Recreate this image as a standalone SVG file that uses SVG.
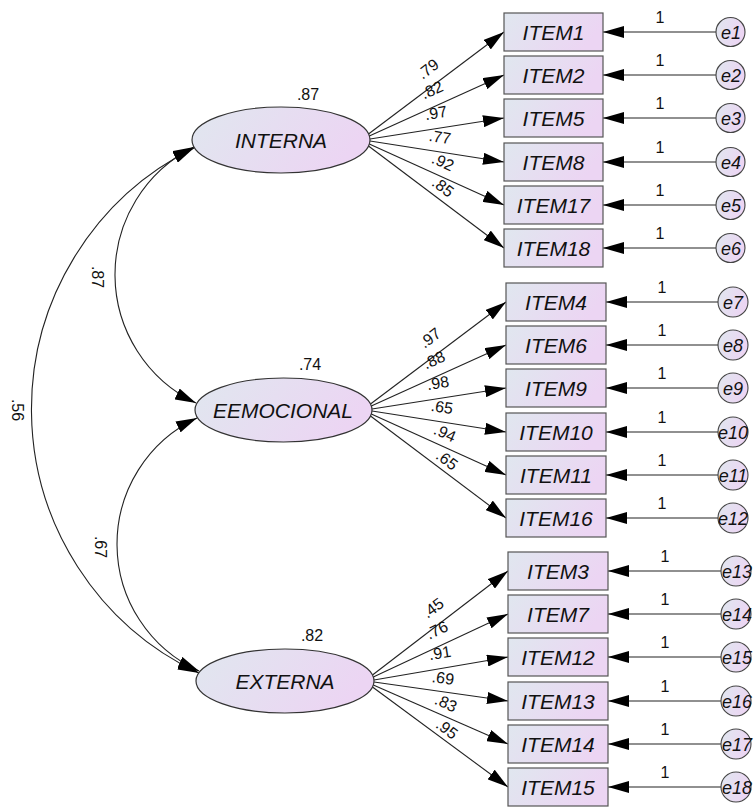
<svg xmlns="http://www.w3.org/2000/svg" width="755" height="807" viewBox="0 0 755 807">
<defs>
<linearGradient id="gf" x1="0" y1="0" x2="1" y2="0.3">
<stop offset="0" stop-color="#e0e7ef"/>
<stop offset="1" stop-color="#ecd5f3"/>
</linearGradient>
<marker id="ah" markerUnits="userSpaceOnUse" markerWidth="21" markerHeight="12" viewBox="0 0 21 12" refX="21" refY="6" orient="auto-start-reverse">
<path d="M0,0 L21,6 L0,12 z" fill="#000"/>
</marker>
<style>
.box{fill:url(#gf);stroke:#555;stroke-width:1.2}
.lat{fill:url(#gf);stroke:#333;stroke-width:1.2}
.err{fill:url(#gf);stroke:#444;stroke-width:1.1}
.nl{font-family:"Liberation Sans",Arial,sans-serif;font-style:italic;font-size:21px;fill:#111;text-anchor:middle}
.el{font-family:"Liberation Sans",Arial,sans-serif;font-style:italic;font-size:18px;fill:#111;text-anchor:middle}
.num{font-family:"Liberation Sans",Arial,sans-serif;font-size:16px;fill:#111;text-anchor:middle}
.c{stroke:#222;stroke-width:1.1;fill:none;marker-end:url(#ah)}
.cv{stroke:#222;stroke-width:1.1;fill:none;marker-start:url(#ah);marker-end:url(#ah)}
</style>
</defs>
<rect width="755" height="807" fill="#fff"/>

<g id="connectors">
<!-- covariances -->
<path class="cv" d="M194,147 A142.4,142.4 0 0 0 196,403"/>
<path class="cv" d="M194,148 A291.3,291.3 0 0 0 199,673"/>
<path class="cv" d="M197,418 A139.3,139.3 0 0 0 199,671"/>
<!-- INTERNA loadings -->
<path class="c" d="M368.5,134 L504,32"/>
<path class="c" d="M369.3,136 L504,75"/>
<path class="c" d="M370,139 L504,118"/>
<path class="c" d="M370,141 L504,162"/>
<path class="c" d="M369.3,144 L504,205"/>
<path class="c" d="M368.5,146 L504,248"/>
<!-- EEMOCIONAL loadings -->
<path class="c" d="M370.5,404 L506,302"/>
<path class="c" d="M371.3,406 L506,345"/>
<path class="c" d="M372,409 L506,388"/>
<path class="c" d="M372,411 L506,432"/>
<path class="c" d="M371.3,414 L506,475"/>
<path class="c" d="M370.5,416 L506,518"/>
<!-- EXTERNA loadings -->
<path class="c" d="M372.5,675 L508,571"/>
<path class="c" d="M373.3,677 L508,614"/>
<path class="c" d="M374,680 L508,657"/>
<path class="c" d="M374,682 L508,701"/>
<path class="c" d="M373.3,685 L508,744"/>
<path class="c" d="M372.5,687 L508,787"/>
<!-- error paths -->
<path class="c" d="M716,32 L603,32"/>
<path class="c" d="M716,75 L603,75"/>
<path class="c" d="M716,118 L603,118"/>
<path class="c" d="M716,162 L603,162"/>
<path class="c" d="M716,205 L603,205"/>
<path class="c" d="M716,248 L603,248"/>
<path class="c" d="M718,302 L606,302"/>
<path class="c" d="M718,345 L606,345"/>
<path class="c" d="M718,388 L606,388"/>
<path class="c" d="M718,432 L606,432"/>
<path class="c" d="M718,475 L606,475"/>
<path class="c" d="M718,518 L606,518"/>
<path class="c" d="M721,571 L608,571"/>
<path class="c" d="M721,614 L608,614"/>
<path class="c" d="M721,657 L608,657"/>
<path class="c" d="M721,701 L608,701"/>
<path class="c" d="M721,744 L608,744"/>
<path class="c" d="M721,787 L608,787"/>
</g>

<g id="connector-labels">
<text class="num" transform="translate(97,277) rotate(90)" x="0" y="5.5">.87</text>
<text class="num" transform="translate(100,547) rotate(90)" x="0" y="5.5">.67</text>
<text class="num" transform="translate(17,410) rotate(90)" x="0" y="5.5">.56</text>

<text class="num" transform="translate(428,69) rotate(-37)" y="5.5">.79</text>
<text class="num" transform="translate(432,90) rotate(-24)" y="5.5">.82</text>
<text class="num" transform="translate(436,113) rotate(-9)" y="5.5">.97</text>
<text class="num" transform="translate(440,137) rotate(9)" y="5.5">.77</text>
<text class="num" transform="translate(443,162) rotate(24)" y="5.5">.92</text>
<text class="num" transform="translate(443,187) rotate(37)" y="5.5">.85</text>

<text class="num" transform="translate(430,338) rotate(-37)" y="5.5">.97</text>
<text class="num" transform="translate(434,360) rotate(-24)" y="5.5">.88</text>
<text class="num" transform="translate(438,383) rotate(-9)" y="5.5">.98</text>
<text class="num" transform="translate(442,407) rotate(9)" y="5.5">.65</text>
<text class="num" transform="translate(445,433) rotate(24)" y="5.5">.94</text>
<text class="num" transform="translate(447,460) rotate(37)" y="5.5">.65</text>

<text class="num" transform="translate(433,608) rotate(-37)" y="5.5">.45</text>
<text class="num" transform="translate(437,630) rotate(-25)" y="5.5">.76</text>
<text class="num" transform="translate(440,653) rotate(-9)" y="5.5">.91</text>
<text class="num" transform="translate(443,678) rotate(8)" y="5.5">.69</text>
<text class="num" transform="translate(446,703) rotate(24)" y="5.5">.83</text>
<text class="num" transform="translate(447,729) rotate(37)" y="5.5">.95</text>

<text class="num" x="660" y="23">1</text>
<text class="num" x="660" y="66">1</text>
<text class="num" x="660" y="109">1</text>
<text class="num" x="660" y="153">1</text>
<text class="num" x="660" y="196">1</text>
<text class="num" x="660" y="239">1</text>
<text class="num" x="662" y="293">1</text>
<text class="num" x="662" y="336">1</text>
<text class="num" x="662" y="379">1</text>
<text class="num" x="662" y="423">1</text>
<text class="num" x="662" y="466">1</text>
<text class="num" x="662" y="509">1</text>
<text class="num" x="665" y="562">1</text>
<text class="num" x="665" y="605">1</text>
<text class="num" x="665" y="648">1</text>
<text class="num" x="665" y="692">1</text>
<text class="num" x="665" y="735">1</text>
<text class="num" x="665" y="778">1</text>
</g>

<g id="INTERNA"><ellipse class="lat" cx="281" cy="140" rx="89" ry="33"/><text class="nl" x="281" y="147.5">INTERNA</text><text class="num" x="308" y="99.5">.87</text></g>
<g id="EEMOCIONAL"><ellipse class="lat" cx="283.5" cy="410" rx="88.5" ry="32"/><text class="nl" x="283" y="417.5">EEMOCIONAL</text><text class="num" x="310" y="369.5">.74</text></g>
<g id="EXTERNA"><ellipse class="lat" cx="285" cy="681" rx="89" ry="32"/><text class="nl" x="285" y="688.5">EXTERNA</text><text class="num" x="312" y="640.5">.82</text></g>

<g id="ITEM1"><rect class="box" x="504" y="13" width="99" height="38"/><text class="nl" x="553.5" y="39.5">ITEM1</text></g>
<g id="ITEM2"><rect class="box" x="504" y="56" width="99" height="38"/><text class="nl" x="553.5" y="82.5">ITEM2</text></g>
<g id="ITEM5"><rect class="box" x="504" y="99" width="99" height="38"/><text class="nl" x="553.5" y="125.5">ITEM5</text></g>
<g id="ITEM8"><rect class="box" x="504" y="143" width="99" height="38"/><text class="nl" x="553.5" y="169.5">ITEM8</text></g>
<g id="ITEM17"><rect class="box" x="504" y="186" width="99" height="38"/><text class="nl" x="553.5" y="212.5">ITEM17</text></g>
<g id="ITEM18"><rect class="box" x="504" y="229" width="99" height="38"/><text class="nl" x="553.5" y="255.5">ITEM18</text></g>

<g id="ITEM4"><rect class="box" x="506" y="283" width="100" height="38"/><text class="nl" x="556" y="309.5">ITEM4</text></g>
<g id="ITEM6"><rect class="box" x="506" y="326" width="100" height="38"/><text class="nl" x="556" y="352.5">ITEM6</text></g>
<g id="ITEM9"><rect class="box" x="506" y="369" width="100" height="38"/><text class="nl" x="556" y="395.5">ITEM9</text></g>
<g id="ITEM10"><rect class="box" x="506" y="413" width="100" height="38"/><text class="nl" x="556" y="439.5">ITEM10</text></g>
<g id="ITEM11"><rect class="box" x="506" y="456" width="100" height="38"/><text class="nl" x="556" y="482.5">ITEM11</text></g>
<g id="ITEM16"><rect class="box" x="506" y="499" width="100" height="38"/><text class="nl" x="556" y="525.5">ITEM16</text></g>

<g id="ITEM3"><rect class="box" x="508" y="552" width="100" height="38"/><text class="nl" x="558" y="578.5">ITEM3</text></g>
<g id="ITEM7"><rect class="box" x="508" y="595" width="100" height="38"/><text class="nl" x="558" y="621.5">ITEM7</text></g>
<g id="ITEM12"><rect class="box" x="508" y="638" width="100" height="38"/><text class="nl" x="558" y="664.5">ITEM12</text></g>
<g id="ITEM13"><rect class="box" x="508" y="682" width="100" height="38"/><text class="nl" x="558" y="708.5">ITEM13</text></g>
<g id="ITEM14"><rect class="box" x="508" y="725" width="100" height="38"/><text class="nl" x="558" y="751.5">ITEM14</text></g>
<g id="ITEM15"><rect class="box" x="508" y="768" width="100" height="38"/><text class="nl" x="558" y="794.5">ITEM15</text></g>

<g id="e1"><circle class="err" cx="730.5" cy="32" r="14.5"/><text class="el" x="731" y="38.5">e1</text></g>
<g id="e2"><circle class="err" cx="730.5" cy="75" r="14.5"/><text class="el" x="731" y="81.5">e2</text></g>
<g id="e3"><circle class="err" cx="730.5" cy="118" r="14.5"/><text class="el" x="731" y="124.5">e3</text></g>
<g id="e4"><circle class="err" cx="730.5" cy="162" r="14.5"/><text class="el" x="731" y="168.5">e4</text></g>
<g id="e5"><circle class="err" cx="730.5" cy="205" r="14.5"/><text class="el" x="731" y="211.5">e5</text></g>
<g id="e6"><circle class="err" cx="730.5" cy="248" r="14.5"/><text class="el" x="731" y="254.5">e6</text></g>

<g id="e7"><circle class="err" cx="733" cy="302" r="15"/><text class="el" x="733" y="308.5">e7</text></g>
<g id="e8"><circle class="err" cx="733" cy="345" r="15"/><text class="el" x="733" y="351.5">e8</text></g>
<g id="e9"><circle class="err" cx="733" cy="388" r="15"/><text class="el" x="733" y="394.5">e9</text></g>
<g id="e10"><circle class="err" cx="733" cy="432" r="15"/><text class="el" x="733" y="438.5">e10</text></g>
<g id="e11"><circle class="err" cx="733" cy="475" r="15"/><text class="el" x="733" y="481.5">e11</text></g>
<g id="e12"><circle class="err" cx="733" cy="518" r="15"/><text class="el" x="733" y="524.5">e12</text></g>

<g id="e13"><circle class="err" cx="736" cy="571" r="15"/><text class="el" x="737" y="577.5">e13</text></g>
<g id="e14"><circle class="err" cx="736" cy="614" r="15"/><text class="el" x="737" y="620.5">e14</text></g>
<g id="e15"><circle class="err" cx="736" cy="657" r="15"/><text class="el" x="737" y="663.5">e15</text></g>
<g id="e16"><circle class="err" cx="736" cy="701" r="15"/><text class="el" x="737" y="707.5">e16</text></g>
<g id="e17"><circle class="err" cx="736" cy="744" r="15"/><text class="el" x="737" y="750.5">e17</text></g>
<g id="e18"><circle class="err" cx="736" cy="787" r="15"/><text class="el" x="737" y="793.5">e18</text></g>
</svg>
